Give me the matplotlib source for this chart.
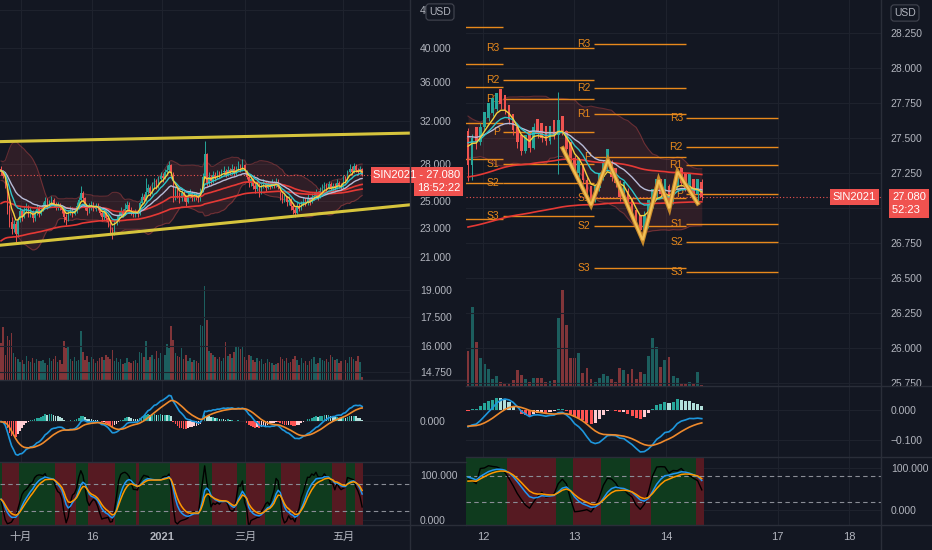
import numpy as np
import pandas as pd
import matplotlib
matplotlib.use("Agg")
import matplotlib.pyplot as plt
from matplotlib.lines import Line2D
from matplotlib.ticker import FixedLocator, FixedFormatter, NullLocator
from matplotlib import transforms

plt.rcParams["font.family"] = ["Liberation Sans", "Noto Sans CJK SC", "DejaVu Sans"]

W, H = 932, 550
BG = "#131722"
GRID = "#1e222d"
SEP = "#2a2e39"
TXT = "#b2b5be"
UP = "#26a69a"
DN = "#ef5350"

# ─────────────────────────────────────────────────────────────
# LEFT CHART DATA  (SIN2021, daily)
# ─────────────────────────────────────────────────────────────
left_hist = [27.8, 28.6, 29.4, 28.1, 26.3, 25.2, 26.4, 26.9, 27.3, 26.8,
             27.5, 27.9, 27.2, 27.0, 26.6, 27.1, 27.6, 27.9, 28.4, 28.0,
             27.6, 27.3, 27.5, 27.1, 26.9, 27.2, 27.5, 27.4, 27.7, 27.6]
left_open0 = 27.6
left_close = [27.3, 27.0, 26.2, 24.4, 23.4, 22.9, 23.3, 22.6, 23.6, 24.2,
              23.8, 24.3, 24.5, 24.0, 24.2, 23.7, 24.1, 24.4, 24.0, 24.3,
              24.7, 25.0, 24.6, 24.9, 25.1, 24.7, 24.5, 24.7, 24.5, 24.3,
              23.8, 23.6, 24.1, 24.3, 24.0, 24.2, 24.6, 25.1, 25.6, 25.2,
              24.5, 24.2, 24.5, 24.7, 24.4, 24.6, 24.5, 24.1, 23.8, 24.2,
              23.7, 23.4, 22.9, 22.6, 23.4, 23.6, 23.9, 24.2, 24.0, 24.4,
              24.7, 24.3, 24.1, 24.0, 24.2, 24.0, 24.8, 25.3, 25.1, 25.7,
              26.0, 25.6, 26.2, 26.5, 26.1, 26.7, 27.0, 26.8, 27.3, 27.5,
              27.9, 27.2, 25.3, 25.8, 25.5, 25.2, 25.6, 25.3, 24.9, 25.4,
              25.6, 25.2, 25.5, 25.3, 25.1, 25.8, 26.9, 28.9, 26.4, 26.9,
              26.6, 27.1, 26.8, 27.2, 27.0, 27.3, 27.4, 27.1, 27.5, 27.3,
              27.6, 27.2, 27.5, 27.8, 27.5, 27.9, 27.4, 26.9, 26.4, 26.7,
              26.2, 25.9, 26.3, 25.6, 26.1, 26.4, 26.0, 26.3, 26.1, 26.4,
              26.2, 26.5, 26.1, 25.4, 25.1, 25.3, 24.9, 25.1, 24.6, 24.3,
              24.1, 24.6, 24.4, 24.8, 25.0, 24.8, 25.2, 24.9, 25.3, 25.4,
              25.6, 25.3, 25.8, 25.9, 26.2, 26.0, 26.3, 25.9, 26.2, 26.0,
              26.4, 26.2, 26.1, 26.9, 26.6, 27.3, 27.6, 27.3, 27.8, 27.5,
              27.3, 27.6, 27.08]
left_high = [27.8, 27.5, 27.2, 26.4, 24.7, 23.8, 23.6, 23.5, 23.8, 24.5,
             24.4, 24.6, 24.8, 24.7, 24.5, 24.3, 24.3, 24.7, 24.6, 24.5,
             24.9, 25.3, 25.2, 25.1, 25.4, 25.2, 24.9, 24.9, 24.8, 24.7,
             24.4, 24.0, 24.3, 24.6, 24.5, 24.4, 24.9, 25.3, 26.2, 25.8,
             25.3, 24.7, 24.8, 25.0, 24.9, 24.8, 24.8, 24.6, 24.3, 24.4,
             24.3, 23.9, 23.5, 23.1, 23.6, 23.9, 24.2, 24.5, 24.4, 24.8,
             25.0, 24.9, 24.5, 24.3, 24.4, 24.3, 25.0, 25.6, 25.5, 26.8,
             26.3, 26.2, 26.5, 26.8, 26.7, 27.0, 27.3, 27.2, 27.6, 27.9,
             28.3, 28.0, 27.3, 26.1, 26.0, 25.7, 25.9, 25.8, 25.4, 25.7,
             25.9, 25.8, 25.7, 25.7, 25.5, 26.0, 27.2, 30.1, 29.0, 27.3,
             27.1, 27.4, 27.3, 27.5, 27.4, 27.6, 27.8, 27.6, 27.8, 27.7,
             28.0, 27.8, 27.8, 28.3, 28.0, 28.4, 28.0, 27.5, 27.0, 27.0,
             26.8, 26.4, 26.6, 26.4, 26.4, 26.7, 26.6, 26.6, 26.5, 26.7,
             26.6, 26.8, 26.7, 26.2, 25.6, 25.6, 25.4, 25.4, 25.2, 24.8,
             24.5, 24.9, 24.8, 25.0, 25.3, 25.2, 25.5, 25.3, 25.6, 25.7,
             25.9, 25.8, 26.1, 26.3, 26.5, 26.4, 26.6, 26.5, 26.4, 26.4,
             26.7, 26.6, 26.4, 27.1, 27.0, 27.5, 28.0, 27.8, 28.1, 28.0,
             27.7, 27.8, 27.7]
left_low = [27.1, 26.8, 26.0, 24.0, 23.1, 22.6, 22.7, 22.0, 22.4, 23.4,
            23.5, 23.7, 24.1, 23.8, 23.8, 23.4, 23.5, 23.9, 23.8, 23.9,
            24.2, 24.5, 24.4, 24.5, 24.8, 24.5, 24.3, 24.3, 24.3, 24.1,
            23.4, 23.2, 23.5, 23.9, 23.8, 23.9, 24.1, 24.4, 25.0, 25.0,
            24.3, 23.9, 24.1, 24.3, 24.2, 24.2, 24.3, 23.9, 23.5, 23.6,
            23.5, 23.1, 22.6, 22.2, 22.5, 23.2, 23.4, 23.8, 23.8, 23.9,
            24.2, 24.1, 23.9, 23.8, 23.8, 23.8, 23.9, 24.7, 24.9, 25.0,
            25.5, 25.4, 25.5, 26.0, 25.9, 26.0, 26.5, 26.5, 26.7, 27.1,
            27.3, 27.0, 24.9, 25.1, 25.2, 24.8, 25.0, 25.0, 24.6, 24.8,
            25.2, 25.0, 25.0, 25.1, 24.9, 25.0, 25.7, 26.8, 26.2, 26.2,
            26.3, 26.4, 26.6, 26.7, 26.8, 26.9, 27.1, 26.9, 27.0, 27.1,
            27.1, 27.0, 27.1, 27.4, 27.3, 27.4, 27.2, 26.7, 26.1, 26.2,
            25.9, 25.6, 25.8, 25.3, 25.5, 26.0, 25.8, 25.9, 25.9, 26.0,
            26.0, 26.1, 25.9, 25.1, 24.8, 24.9, 24.6, 24.7, 24.3, 24.0,
            23.8, 24.0, 24.2, 24.3, 24.6, 24.6, 24.7, 24.7, 24.8, 25.1,
            25.3, 25.1, 25.2, 25.6, 25.8, 25.8, 25.9, 25.7, 25.8, 25.8,
            25.9, 26.0, 25.9, 26.0, 26.4, 26.5, 27.2, 27.1, 27.2, 27.3,
            27.1, 27.2, 27.0]
left_vol = [110, 158, 75, 133, 120, 140, 80, 70, 62, 55,
            60, 48, 72, 58, 55, 65, 50, 62, 58, 56,
            60, 52, 45, 66, 58, 63, 72, 55, 60, 48,
            116, 95, 100, 62, 56, 70, 58, 60, 146, 85,
            60, 72, 55, 68, 62, 50, 56, 66, 70, 60,
            75, 68, 62, 90, 58, 65, 55, 62, 48, 50,
            66, 55, 52, 58, 60, 50, 85, 80, 68, 116,
            60, 70, 75, 62, 88, 66, 80, 64, 75, 108,
            95, 163, 120, 80, 72, 68, 95, 62, 75, 58,
            66, 55, 60, 58, 52, 165, 163, 283, 181, 88,
            80, 76, 70, 62, 68, 58, 66, 115, 72, 78,
            66, 85, 98, 98, 92, 100, 70, 60, 76, 72,
            60, 54, 66, 58, 62, 48, 52, 62, 55, 50,
            46, 48, 52, 70, 64, 58, 66, 50, 55, 62,
            72, 60, 46, 66, 52, 58, 44, 56, 62, 70,
            48, 52, 66, 60, 58, 62, 54, 76, 70, 60,
            64, 52, 56, 58, 60, 50, 70, 68, 62, 58,
            72, 55, 8]
left_long_seeds = [24.7, 22.0]          # EMA50 / EMA100 starting values
left_price_ticks = [45, 40, 36, 32, 28, 25, 23, 21, 19, 17.5, 16, 14.75]
left_tick_pos = [9.5, 43.3, 76.7, 116.2, 162.9]
left_tick_lab = ["十月", "16", "2021", "三月", "五月"]
trend_x = [-1.0, 195.0]
trend_upper = [30.0, 30.8]
trend_lower = [21.8, 24.7]

# ─────────────────────────────────────────────────────────────
# RIGHT CHART DATA  (SIN2021, hourly)
# ─────────────────────────────────────────────────────────────
right_hist = [27.70, 27.72, 27.68, 27.75, 27.78, 27.74, 27.70, 27.66, 27.69, 27.72,
              27.68, 27.64, 27.60, 27.62, 27.58, 27.55, 27.57, 27.52, 27.48, 27.50,
              27.46, 27.44, 27.48, 27.45, 27.42, 27.46, 27.50, 27.47, 27.52, 27.55]
right_open0 = 27.55
right_close = [27.31, 27.50, 27.47, 27.58, 27.64, 27.68, 27.71, 27.77, 27.74, 27.70,
               27.63, 27.56, 27.47, 27.41, 27.45, 27.43, 27.58, 27.53, 27.50, 27.48,
               27.54, 27.52, 27.61, 27.55, 27.42, 27.36, 27.25, 27.29, 27.20, 27.09,
               27.05, 27.14, 27.22, 27.31, 27.33, 27.22, 27.18, 27.08, 27.12, 27.00,
               26.96, 26.88, 26.84, 26.95, 27.03, 27.10, 27.17, 27.10, 27.16, 27.05,
               27.15, 27.24, 27.18, 27.14, 27.16, 27.10, 27.12, 27.08]
right_high = [27.57, 27.53, 27.53, 27.61, 27.67, 27.71, 27.74, 27.80, 27.79, 27.76,
              27.72, 27.65, 27.58, 27.49, 27.48, 27.47, 27.61, 27.60, 27.56, 27.52,
              27.56, 27.56, 27.83, 27.63, 27.56, 27.45, 27.38, 27.32, 27.30, 27.22,
              27.11, 27.16, 27.25, 27.34, 27.36, 27.34, 27.25, 27.20, 27.15, 27.14,
              27.04, 26.98, 26.92, 26.98, 27.05, 27.12, 27.20, 27.19, 27.19, 27.17,
              27.17, 27.26, 27.24, 27.20, 27.18, 27.17, 27.14, 27.21]
right_low = [27.19, 27.20, 27.42, 27.45, 27.55, 27.62, 27.66, 27.69, 27.71, 27.67,
             27.60, 27.52, 27.43, 27.38, 27.39, 27.40, 27.42, 27.50, 27.47, 27.45,
             27.46, 27.49, 27.24, 27.52, 27.39, 27.32, 27.22, 27.22, 27.17, 27.06,
             27.02, 27.04, 27.12, 27.20, 27.28, 27.19, 27.15, 27.05, 27.06, 26.98,
             26.92, 26.85, 26.78, 26.82, 26.86, 27.00, 27.07, 27.07, 27.08, 27.02,
             27.03, 27.13, 27.16, 27.12, 27.12, 27.08, 27.05, 27.06]
right_vol = [105, 236, 133, 85, 65, 51, 21, 30, 13, 8,
             8, 18, 48, 33, 21, 13, 25, 23, 25, 13,
             15, 18, 205, 288, 183, 83, 83, 100, 40, 53,
             20, 13, 25, 36, 30, 21, 11, 53, 48, 36,
             50, 21, 43, 37, 90, 145, 118, 58, 78, 88,
             30, 25, 10, 8, 11, 10, 43, 3]
right_long_seeds = [27.22, 26.86]       # EMA100 / EMA200 starting values
right_price_ticks = [28.25, 28.0, 27.75, 27.5, 27.25, 27.0, 26.75, 26.5, 26.25, 26.0, 25.75]
right_price_labels = ["28.250", "28.000", "27.750", "27.500", "27.250", "",
                      "26.750", "26.500", "26.250", "26.000", "25.750"]
right_tick_pos = [3.66, 25.9, 48.3, 75.5, 92.9]
right_tick_lab = ["12", "13", "14", "17", "18"]

# daily pivot levels (classic), one value per session
pivot_edges = [-1.0, 8.5, 30.7, 53.2, 75.6]
pivot_names = ["R3", "R2", "R1", "P", "S1", "S2", "S3"]
pivot_levels = {
    "R3": [28.293, 28.141, 28.169, 27.645],
    "R2": [28.026, 27.914, 27.859, 27.436],
    "R1": [27.866, 27.776, 27.669, 27.305],
    "P":  [27.605, 27.545, 27.366, 27.098],
    "S1": [27.348, 27.312, 27.069, 26.884],
    "S2": [27.181, 27.176, 26.874, 26.755],
    "S3": [26.919, 26.943, 26.574, 26.545],
}
# hand-drawn zig-zag pattern (bar index, price)
zig_x = [23.1, 30.0, 34.1, 42.6, 46.5, 49.1, 51.1, 56.0]
zig_y = [27.426, 27.021, 27.343, 26.771, 27.200, 26.998, 27.259, 27.034]


# ─────────────────────────────────────────────────────────────
# INDICATOR HELPERS
# ─────────────────────────────────────────────────────────────
def ema(values, span, seed=None):
    a = 2.0 / (span + 1)
    prev = values[0] if seed is None else seed
    out = np.empty(len(values))
    for i, v in enumerate(values):
        prev = prev + a * (v - prev)
        out[i] = prev
    return out


def stoch_rsi(closes):
    s = pd.Series(closes)
    d = s.diff().fillna(0)
    up = d.clip(lower=0).ewm(alpha=1 / 14, adjust=False).mean()
    dn = (-d).clip(lower=0).ewm(alpha=1 / 14, adjust=False).mean()
    rsi = (100 - 100 / (1 + up / dn.replace(0, np.nan))).fillna(50)
    lo = rsi.rolling(14, min_periods=1).min()
    hi = rsi.rolling(14, min_periods=1).max()
    raw = ((rsi - lo) / (hi - lo).replace(0, np.nan) * 100).fillna(50)
    k = raw.rolling(3, min_periods=1).mean().values
    fast = ema(k, 4)
    slow = ema(k, 7)
    lead = k + 0.5 * (k - ema(k, 5))
    return lead, fast, slow


def indicators(hist, closes, long_seeds, long_spans):
    full = np.array(hist + closes, dtype=float)
    n0 = len(hist)
    s = pd.Series(full)
    out = {}
    out["ma_fast"] = ema(full, 5)[n0:]
    out["ma_mid"] = ema(full, 10)[n0:]
    out["ma_slow"] = ema(full, 20)[n0:]
    mid = s.rolling(20, min_periods=1).mean()
    sd = s.rolling(20, min_periods=1).std(ddof=0)
    out["bb_up"] = (mid + 2 * sd).values[n0:]
    out["bb_dn"] = (mid - 2 * sd).values[n0:]
    c = np.array(closes, dtype=float)
    out["long1"] = ema(c, long_spans[0], long_seeds[0])
    out["long2"] = ema(c, long_spans[1], long_seeds[1])
    macd = ema(full, 12) - ema(full, 26)
    sig = ema(macd, 9)
    out["macd"] = macd[n0:]
    out["signal"] = sig[n0:]
    out["hist"] = (macd - sig)[n0:]
    out["hist_prev"] = np.r_[(macd - sig)[n0 - 1], (macd - sig)[n0:-1]]
    k, d1, d2 = stoch_rsi(full)
    out["k"], out["d1"], out["d2"] = k[n0:], d1[n0:], d2[n0:]
    return out


def px_axes(fig, x0, y0, x1, y1):
    return fig.add_axes([x0 / W, 1 - y1 / H, (x1 - x0) / W, (y1 - y0) / H])


def style_axes(ax, yticks, ylabels, xticks):
    ax.set_facecolor(BG)
    for sp in ax.spines.values():
        sp.set_visible(False)
    ax.yaxis.tick_right()
    ax.yaxis.set_major_locator(FixedLocator(yticks))
    ax.yaxis.set_major_formatter(FixedFormatter(ylabels))
    ax.yaxis.set_minor_locator(NullLocator())
    ax.set_xticks(xticks)
    ax.tick_params(axis="y", length=0, pad=7, labelsize=7.5, labelcolor=TXT)
    ax.tick_params(axis="x", length=0, labelbottom=False)
    ax.grid(True, color=GRID, lw=0.8)
    ax.set_axisbelow(True)


def draw_candles(ax, o, h, l, c, width):
    x = np.arange(len(c))
    o, h, l, c = map(np.asarray, (o, h, l, c))
    cols = np.where(c >= o, UP, DN)
    ax.vlines(x, l, h, colors=cols, lw=0.7, zorder=4)
    body_lo = np.minimum(o, c)
    body_h = np.maximum(np.abs(c - o), 0.004 * c.mean())
    ax.bar(x, body_h, bottom=body_lo, width=width, color=cols, lw=0, zorder=5)
    return cols


def draw_volume(fig, rect, vol, cols):
    axv = fig.add_axes(rect)
    axv.set_zorder(0)
    axv.set_facecolor(BG)
    axv.axis("off")
    axv.bar(np.arange(len(vol)), vol, width=0.7, color=cols, alpha=0.5, lw=0)
    return axv


def draw_macd(ax, ind):
    hcur, hprev = ind["hist"], ind["hist_prev"]
    hcol = np.where(hcur >= 0,
                    np.where(hcur >= hprev, "#26a69a", "#b2dfdb"),
                    np.where(hcur < hprev, "#ff5252", "#ffcdd2"))
    x = np.arange(len(hcur))
    ax.bar(x, hcur, width=0.75, color=hcol, lw=0, zorder=2)
    ax.plot(x, ind["macd"], color="#1e96dc", lw=1.2, zorder=3)
    ax.plot(x, ind["signal"], color="#ef8a2c", lw=1.2, zorder=3)


def draw_stoch(ax, ind, ylo, yhi):
    x = np.arange(len(ind["k"]))
    bcol = np.where(ind["d1"] >= ind["d2"], "#0f3b1e", "#561a22")
    ax.bar(x, yhi - ylo, bottom=ylo, width=1.0, color=bcol, lw=0,
           antialiased=False, zorder=1)
    for lvl in (80, 20):
        ax.axhline(lvl, color="#8a8d96", lw=0.8, ls=(0, (4, 3)), zorder=2)
    ax.plot(x, ind["k"], color="#000000", lw=1.0, zorder=3)
    ax.plot(x, ind["d1"], color="#2196f3", lw=1.1, zorder=4)
    ax.plot(x, ind["d2"], color="#ff9800", lw=1.1, zorder=5)
    ax.set_ylim(ylo, yhi)


fig = plt.figure(figsize=(W / 100, H / 100), dpi=100, facecolor=BG)

# ─────────────────────────────────────────────────────────────
# LEFT PANEL
# ─────────────────────────────────────────────────────────────
nL = len(left_close)
left_open = [left_open0] + left_close[:-1]
L = indicators(left_hist, left_close, left_long_seeds, (50, 100))
L_xlim = (-0.5, 194.8)

rect = [0, 1 - 380 / H, 410 / W, 380 / H]
axp = px_axes(fig, 0, 0, 410, 380)
cols = np.where(np.array(left_close) >= np.array(left_open), UP, DN)
axv = draw_volume(fig, rect, left_vol, cols)
axv.set_xlim(*L_xlim)
axv.set_ylim(0, 1140)
axp.set_zorder(1)
axp.set_yscale("log")
style_axes(axp, left_price_ticks, [f"{t:.3f}" for t in left_price_ticks], left_tick_pos)
axp.patch.set_visible(False)
xL = np.arange(nL)
axp.fill_between(xL, L["bb_dn"], L["bb_up"], color="#ef5350", alpha=0.13, lw=0, zorder=2)
axp.plot(xL, L["bb_up"], color="#ef5350", alpha=0.35, lw=0.8, zorder=2)
axp.plot(xL, L["bb_dn"], color="#ef5350", alpha=0.35, lw=0.8, zorder=2)
draw_candles(axp, left_open, left_high, left_low, left_close, 0.65)
axp.plot(xL, L["long1"], color="#e53935", lw=1.2, zorder=6)
axp.plot(xL, L["long2"], color="#e53935", lw=1.2, zorder=6)
axp.plot(xL, L["ma_slow"], color="#b8bcd8", lw=1.0, zorder=6)
axp.plot(xL, L["ma_mid"], color="#2ec4c8", lw=1.0, zorder=6)
axp.plot(xL, L["ma_fast"], color="#f4d13d", lw=1.0, zorder=6)
axp.plot(trend_x, trend_upper, color="#d6c43c", lw=2.2, zorder=7)
axp.plot(trend_x, trend_lower, color="#d6c43c", lw=2.2, zorder=7)
axp.axhline(left_close[-1], color=DN, lw=0.8, ls=(0, (1, 2)), zorder=3)
axp.set_xlim(*L_xlim)
axp.set_ylim(14.40, 46.4)

axm = px_axes(fig, 0, 380, 410, 462)
style_axes(axm, [0], ["0.000"], left_tick_pos)
draw_macd(axm, L)
A = 1.2 * max(np.abs(L["macd"]).max(), np.abs(L["signal"]).max())
axm.set_ylim(-A, A)
axm.set_xlim(*L_xlim)

axs = px_axes(fig, 0, 462, 410, 525)
style_axes(axs, [0, 100], ["0.000", "100.000"], left_tick_pos)
draw_stoch(axs, L, -11.1, 128.9)
axs.set_xlim(*L_xlim)
axs.set_xticklabels(left_tick_lab)
axs.tick_params(axis="x", labelbottom=True, labelsize=8, labelcolor=TXT, pad=5)
axs.get_xticklabels()[2].set_fontweight("bold")

# ─────────────────────────────────────────────────────────────
# RIGHT PANEL
# ─────────────────────────────────────────────────────────────
nR = len(right_close)
right_open = [right_open0] + right_close[:-1]
R = indicators(right_hist, right_close, right_long_seeds, (100, 200))
R_xlim = (-0.49, 100.7)

rect = [466 / W, 1 - 386 / H, 415 / W, 386 / H]
bxp = px_axes(fig, 466, 0, 881, 386)
cols = np.where(np.array(right_close) >= np.array(right_open), UP, DN)
bxv = draw_volume(fig, rect, right_vol, cols)
bxv.set_xlim(*R_xlim)
bxv.set_ylim(0, 1158)
bxp.set_zorder(1)
style_axes(bxp, right_price_ticks, right_price_labels, right_tick_pos)
bxp.patch.set_visible(False)
xR = np.arange(nR)
bxp.fill_between(xR, R["bb_dn"], R["bb_up"], color="#ef5350", alpha=0.13, lw=0, zorder=2)
bxp.plot(xR, R["bb_up"], color="#ef5350", alpha=0.35, lw=0.8, zorder=2)
bxp.plot(xR, R["bb_dn"], color="#ef5350", alpha=0.35, lw=0.8, zorder=2)
for i in range(len(pivot_edges) - 1):
    x0, x1 = pivot_edges[i], pivot_edges[i + 1]
    for name in pivot_names:
        lvl = pivot_levels[name][i]
        bxp.hlines(lvl, x0, x1, color="#e8891c", lw=1.0, zorder=3)
        if i > 0:
            bxp.text(x0 - 0.8, lvl, name, color="#e8891c", fontsize=7.5,
                     ha="right", va="center", zorder=3, clip_on=True)
draw_candles(bxp, right_open, right_high, right_low, right_close, 0.65)
bxp.plot(xR, R["long1"], color="#e53935", lw=1.2, zorder=6)
bxp.plot(xR, R["long2"], color="#e53935", lw=1.2, zorder=6)
bxp.plot(xR, R["ma_slow"], color="#b8bcd8", lw=1.0, zorder=6)
bxp.plot(xR, R["ma_mid"], color="#2ec4c8", lw=1.0, zorder=6)
bxp.plot(xR, R["ma_fast"], color="#f4d13d", lw=1.0, zorder=6)
bxp.plot(zig_x, zig_y, color="#c98a2a", lw=3.2, zorder=7, solid_joinstyle="miter")
bxp.plot(zig_x, zig_y, color="#f2bf55", lw=1.6, zorder=8, solid_joinstyle="miter")
bxp.axhline(right_close[-1], color=DN, lw=0.8, ls=(0, (1, 2)), zorder=3)
bxp.set_xlim(*R_xlim)
bxp.set_ylim(25.729, 28.486)

bxm = px_axes(fig, 466, 386, 881, 457)
style_axes(bxm, [0, -0.1], ["0.000", "\u22120.100"], right_tick_pos)
draw_macd(bxm, R)
bxm.set_ylim(-0.157, 0.08)
bxm.set_xlim(*R_xlim)

bxs = px_axes(fig, 466, 457, 881, 525)
style_axes(bxs, [0, 100], ["0.000", "100.000"], right_tick_pos)
draw_stoch(bxs, R, -35.7, 126.2)
bxs.set_xlim(*R_xlim)
bxs.set_xticklabels(right_tick_lab)
bxs.tick_params(axis="x", labelbottom=True, labelsize=8, labelcolor=TXT, pad=5)

# ─────────────────────────────────────────────────────────────
# PANE SEPARATORS, PRICE LABELS, BADGES
# ─────────────────────────────────────────────────────────────
def sep(x0, y0, x1, y1):
    fig.add_artist(Line2D([x0 / W, x1 / W], [1 - y0 / H, 1 - y1 / H],
                          transform=fig.transFigure, color=SEP, lw=1))

for y in (380, 462, 525):
    sep(0, y, 466, y)
for y in (386, 457, 525):
    sep(466, y, 932, y)
sep(410, 0, 410, 550)
sep(881, 0, 881, 550)

box = dict(boxstyle="square,pad=0.25", fc="#f0524f", ec="none")
last = left_close[-1]
tr = transforms.blended_transform_factory(axp.transAxes, axp.transData)
axp.text(1.123, last, f"SIN2021 - {last:.3f}", transform=tr, ha="right", va="center",
         color="white", fontsize=8, bbox=box, zorder=20, clip_on=False)
axp.text(1.123, last, "18:52:22",
         transform=transforms.offset_copy(tr, fig=fig, y=-13, units="dots"),
         ha="right", va="center", color="white", fontsize=8, bbox=box, zorder=20, clip_on=False)

last = right_close[-1]
tr = transforms.blended_transform_factory(bxp.transAxes, bxp.transData)
bxp.text(0.988, last, "SIN2021", transform=tr, ha="right", va="center",
         color="white", fontsize=8, bbox=box, zorder=20, clip_on=False)
bxp.text(1.108, last, f"{last:.3f}", transform=tr, ha="right", va="center",
         color="white", fontsize=8, bbox=box, zorder=20, clip_on=False)
bxp.text(1.108, last, "52:23  ",
         transform=transforms.offset_copy(tr, fig=fig, y=-13, units="dots"),
         ha="right", va="center", color="white", fontsize=8, bbox=box, zorder=20, clip_on=False)

badge = dict(boxstyle="round,pad=0.3", fc=BG, ec="#434651", lw=0.8)
fig.text(440 / W, 1 - 12 / H, "USD", color=TXT, fontsize=7.5, ha="center", va="center",
         bbox=badge, zorder=30)
fig.text(905 / W, 1 - 13 / H, "USD", color=TXT, fontsize=7.5, ha="center", va="center",
         bbox=badge, zorder=30)

fig.savefig("out.png", dpi=100, facecolor=BG)
